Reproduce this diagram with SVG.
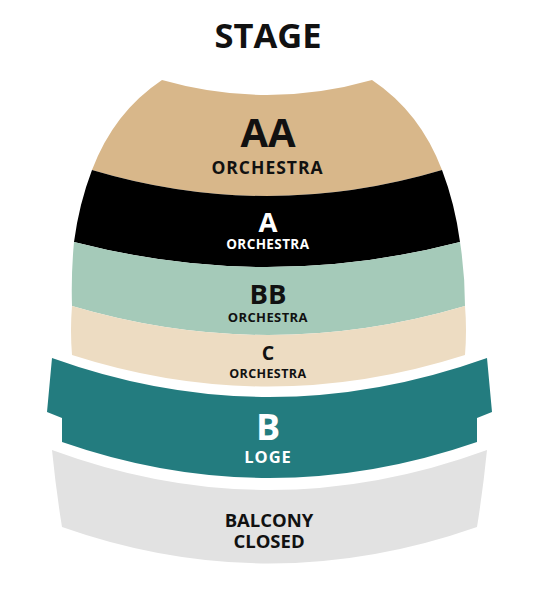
<svg xmlns="http://www.w3.org/2000/svg" width="540" height="600" viewBox="0 0 540 600">
<style>
text{font-family:"Open Sans","Liberation Sans",sans-serif;font-weight:bold;text-anchor:middle}
.dk{fill:#111}
.wt{fill:#fff}
</style>
<rect width="540" height="600" fill="#fff"/>
<text x="268" y="48" font-size="34.5" class="dk">STAGE</text>
<g id="aa">
<path d="M162,80 Q267,110 372,80 Q420,112 442,170 Q267,222 92,170 Q114,112 162,80 Z" fill="#D8B78A"/>
<text x="268" y="146.5" font-size="40" class="dk">AA</text>
<text x="267.5" y="174" font-size="17.5" letter-spacing="1" class="dk">ORCHESTRA</text>
</g>
<g id="a">
<path d="M92,170 Q267,222 442,170 Q455,204 460,242 Q267,292 74,242 Q79,204 92,170 Z" fill="#000"/>
<text x="268" y="232" font-size="27.5" class="wt">A</text>
<text x="267.8" y="249" font-size="13.5" letter-spacing="0.4" class="wt">ORCHESTRA</text>
</g>
<g id="bb">
<path d="M74,242 Q267,292 460,242 Q465,274 465,306 Q268,364 72,306 Q71,274 74,242 Z" fill="#A5CAB9"/>
<text x="268" y="304" font-size="27.5" class="dk">BB</text>
<text x="267.8" y="322.3" font-size="13" letter-spacing="0.4" class="dk">ORCHESTRA</text>
</g>
<g id="c">
<path d="M72,306 Q268,364 465,306 Q467,330 465,355 Q268,418 72,355 Q70,330 72,306 Z" fill="#EDDCC2"/>
<text x="268" y="360" font-size="19.5" class="dk">C</text>
<text x="267.8" y="377.7" font-size="12.5" letter-spacing="0.4" class="dk">ORCHESTRA</text>
</g>
<g id="b">
<path d="M52,358 Q269,436 487,358 L492,412 L477,418 L477,442 Q269,514 62,442 L62,418 L47,412 Z" fill="#237C7F"/>
<text x="268" y="440" font-size="36" class="wt">B</text>
<text x="268" y="463.3" font-size="16.5" letter-spacing="1" class="wt">LOGE</text>
</g>
<g id="balcony">
<path d="M52,450 Q269,530 487,450 Q483,490 477,527 Q269,600 62,527 Q56,490 52,450 Z" fill="#E2E2E2"/>
<text x="269" y="526.7" font-size="18.5" class="dk">BALCONY</text>
<text x="269" y="548.3" font-size="18.5" class="dk">CLOSED</text>
</g>
<g id="connectors"/>
</svg>
